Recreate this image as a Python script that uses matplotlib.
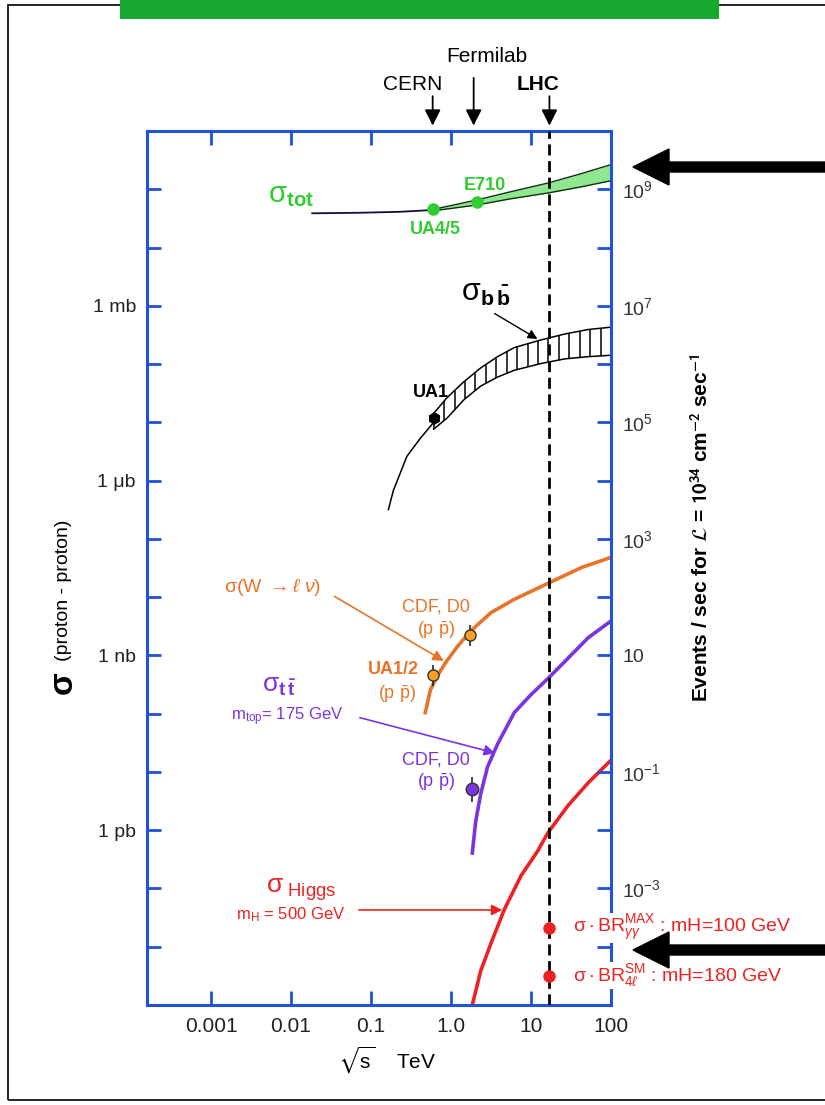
import numpy as np
import matplotlib
matplotlib.use("Agg")
import matplotlib.pyplot as plt
from matplotlib.patches import Rectangle, FancyArrow
from matplotlib.transforms import IdentityTransform

plt.rcParams['font.family'] = ['Liberation Sans', 'DejaVu Sans']
plt.rcParams['mathtext.fontset'] = 'custom'
plt.rcParams['mathtext.rm'] = 'Liberation Sans'
plt.rcParams['mathtext.it'] = 'Liberation Sans:italic'
plt.rcParams['mathtext.bf'] = 'Liberation Sans:bold'
plt.rcParams['mathtext.sf'] = 'Liberation Sans'
plt.rcParams['mathtext.fallback'] = 'stixsans'

# sqrt(s) in TeV, cross sections in mb
colliders = ['CERN', 'Fermilab', 'LHC']
collider_e = [0.59, 1.92, 17.0]

tot_x = [0.0184, 0.071, 0.225, 0.596, 0.72]
tot_y = [38.7, 39.5, 41.0, 44.1, 45.9]
tot_band_x = [0.72, 2.1, 5.4, 16.3, 41, 100]
tot_band_hi = [47.7, 65.5, 89.8, 128, 183, 265]
tot_band_lo = [44.1, 53.7, 68.1, 86.3, 109, 140]
tot_pts_x = [0.596, 2.115]
tot_pts_y = [46.0, 60.0]

bb_x = [0.1651, 0.1905, 0.2811, 0.4133, 0.6077]
bb_y = [3.19e-4, 6.79e-4, 2.61e-3, 5.32e-3, 9.98e-3]
bb_band_x = [0.6077, 0.8964, 1.454, 2.35, 3.813, 6.184, 13.41, 26.38, 51.88, 100]
bb_band_hi = [0.01425, 0.02667, 0.05, 0.0857, 0.134, 0.192, 0.26, 0.328, 0.392, 0.4295]
bb_band_lo = [0.00764, 0.0119, 0.0245, 0.0419, 0.0598, 0.0782, 0.1023, 0.1227, 0.134, 0.1416]
ua1_x, ua1_y = 0.6077, 0.0119

w_x = [0.4773, 0.5528, 0.6705, 0.8536, 1.195, 1.763, 3.145, 6.184, 16.27, 42.79, 100]
w_y = [1.045e-7, 2.56e-7, 4.39e-7, 7.5e-7, 1.406e-6, 2.62e-6, 5.39e-6, 9.18e-6,
       1.72e-5, 3.23e-5, 4.8e-5]
w_pts_x = [0.5903, 1.728]
w_pts_y = [4.54e-7, 2.2e-6]

tt_x = [1.846, 2.036, 2.35, 2.86, 3.813, 6.184, 10.03, 16.27, 29.09, 51.88, 100]
tt_y = [4.06e-10, 1.42e-9, 4.16e-9, 1.216e-8, 2.99e-8, 1.045e-7, 2.13e-7, 4.0e-7,
        8.97e-7, 2.01e-6, 3.9e-6]
tt_pt_x, tt_pt_y = 1.846, 5.15e-9

h_x = [1.846, 2.35, 3.145, 4.624, 7.499, 12.16, 16.27, 29.09, 51.88, 100]
h_y = [1e-12, 3.84e-12, 1.125e-11, 4.31e-11, 1.65e-10, 4.43e-10, 9.04e-10, 2.66e-9,
       6.5e-9, 1.59e-8]
br_y = [2.1e-11, 3.2e-12]

xtick_vals = [0.001, 0.01, 0.1, 1, 10, 100]
xtick_labels = ['0.001', '0.01', '0.1', '1.0', '10', '100']
ytick_vals = [1, 1e-3, 1e-6, 1e-9]
ytick_labels = ['1 mb', '1 \u03bcb', '1 nb', '1 pb']
rate_ticks = [1e9, 1e7, 1e5, 1e3, 1e1, 1e-1, 1e-3]

BLUE = '#1f52d6'
GREEN = '#30cc30'
ORANGE = '#e8742a'
PURPLE = '#7a35e0'
RED = '#ee2222'
SIG = r'\mathrm{\sigma}'

W, H = 825, 1105
fig = plt.figure(figsize=(W / 100, H / 100), dpi=100)
ax = fig.add_axes([147 / W, 1 - 1005 / H, 464 / W, 874 / H])
ax.set_xscale('log')
ax.set_yscale('log')
ax.set_xlim(10 ** -3.8, 100)
ax.set_ylim(1e-12, 1e3)

# sigma_tot
ax.plot(tot_x, tot_y, color='#101040', lw=1.3)
ax.fill_between(tot_band_x, tot_band_lo, tot_band_hi, color='#8fe88f', lw=0)
ax.plot(tot_band_x, tot_band_hi, color='#103010', lw=1)
ax.plot(tot_band_x, tot_band_lo, color='#103010', lw=1)
ax.plot(tot_pts_x, tot_pts_y, 'o', color=GREEN, ms=8, zorder=5)

# sigma_bb with vertical hatching
ax.plot(bb_x, bb_y, color='k', lw=1.1)
ax.plot(bb_band_x, bb_band_hi, color='k', lw=1.1)
ax.plot(bb_band_x, bb_band_lo, color='k', lw=1.1)
lx = np.log10(bb_band_x)
hx = np.geomspace(bb_band_x[0], bb_band_x[-1], 18)
hlo = 10 ** np.interp(np.log10(hx), lx, np.log10(bb_band_lo))
hhi = 10 ** np.interp(np.log10(hx), lx, np.log10(bb_band_hi))
ax.vlines(hx, hlo, hhi, color='k', lw=1.1)
ax.errorbar([ua1_x], [ua1_y], yerr=[[ua1_y * 0.2], [ua1_y * 0.25]], fmt='h',
            color='k', ms=8, lw=1.2, zorder=5)

# W, ttbar, Higgs
ax.plot(w_x, w_y, color=ORANGE, lw=2.6)
ax.plot(tt_x, tt_y, color=PURPLE, lw=2.6)
ax.plot(h_x, h_y, color=RED, lw=2.6)
for xv, yv in zip(w_pts_x, w_pts_y):
    ax.errorbar([xv], [yv], yerr=[[yv * 0.33], [yv * 0.5]], fmt='o', color='#222244',
                mfc='#f5a020', mec='#333333', ms=8, lw=1.2, zorder=5)
ax.errorbar([tt_pt_x], [tt_pt_y], yerr=[[tt_pt_y * 0.4], [tt_pt_y * 0.6]], fmt='o',
            color='#222244', mfc='#7a35e0', mec='#333333', ms=9, lw=1.2, zorder=5)
ax.plot([collider_e[2]] * 2, br_y, 'o', color=RED, ms=8, zorder=6)

# LHC line
ax.axvline(collider_e[2], color='k', ls=(0, (4, 2)), lw=2, zorder=4)

# text labels inside the plot
ax.text(0.0052, 80, r'$%s_{\mathbf{tot}}$' % SIG, color=GREEN, fontsize=21, va='center')
ax.text(2.68, 118, 'E710', color=GREEN, fontsize=13, fontweight='bold', ha='center', va='center')
ax.text(0.64, 20.8, 'UA4/5', color=GREEN, fontsize=13, fontweight='bold', ha='center', va='center')
ax.text(2.68, 1.66, r'$%s_{\mathbf{b\,\bar{b}}}$' % SIG, color='k', fontsize=22, ha='center', va='center')
ax.annotate('', xy=(12.9, 0.255), xytext=(3.27, 0.78),
            arrowprops=dict(arrowstyle='-|>', color='k', lw=1, mutation_scale=14))
ax.text(0.566, 0.0319, 'UA1', color='k', fontsize=13, fontweight='bold', ha='center', va='center')

ax.text(0.00146, 1.44e-5, r'$%s$(W $\rightarrow\ell$ $\nu$)' % SIG, color=ORANGE, fontsize=14, va='center')
ax.annotate('', xy=(0.87, 7.6e-7), xytext=(0.0327, 1.09e-5),
            arrowprops=dict(arrowstyle='-|>', color=ORANGE, lw=1.2, mutation_scale=16))
ax.text(0.653, 6.78e-6, 'CDF, D0', color=ORANGE, fontsize=13, ha='center', va='center')
ax.text(0.653, 2.73e-6, r'(p $\bar{\mathrm{p}}$)', color=ORANGE, fontsize=13, ha='center', va='center')
ax.text(0.19, 5.62e-7, 'UA1/2', color=ORANGE, fontsize=13, fontweight='bold', ha='center', va='center')
ax.text(0.213, 2.18e-7, r'(p $\bar{\mathrm{p}}$)', color=ORANGE, fontsize=13, ha='center', va='center')

ax.text(0.00713, 2.99e-7, r'$%s_{\mathbf{t\,\bar{t}}}$' % SIG, color=PURPLE, fontsize=19, ha='center', va='center')
ax.text(0.00897, 8.77e-8, r'm$_{\mathrm{top}}$= 175 GeV', color=PURPLE, fontsize=12, ha='center', va='center')
ax.annotate('', xy=(3.85, 2.05e-8), xytext=(0.0672, 8.77e-8),
            arrowprops=dict(arrowstyle='-|>', color=PURPLE, lw=1.2, mutation_scale=16))
ax.text(0.653, 1.6e-8, 'CDF, D0', color=PURPLE, fontsize=13, ha='center', va='center')
ax.text(0.653, 6.73e-9, r'(p $\bar{\mathrm{p}}$)', color=PURPLE, fontsize=13, ha='center', va='center')

ax.text(0.0135, 9.4e-11, r'$%s_{\ \mathrm{Higgs}}$' % SIG, color=RED, fontsize=19, ha='center', va='center')
ax.text(0.0098, 3.5e-11, r'm$_{\mathrm{H}}$ = 500 GeV', color=RED, fontsize=12, ha='center', va='center')
ax.annotate('', xy=(4.75, 4.27e-11), xytext=(0.0653, 4.27e-11),
            arrowprops=dict(arrowstyle='-|>', color=RED, lw=1.2, mutation_scale=16))
ax.text(33.7, br_y[0], r'$%s\cdot$BR$_{\gamma\gamma}^{\mathrm{MAX}}$ : mH=100 GeV' % SIG, color=RED,
        fontsize=14, va='center', clip_on=False, zorder=10,
        bbox=dict(facecolor='white', edgecolor='none', pad=0))
ax.text(33.7, br_y[1], r'$%s\cdot$BR$_{4\ell}^{\mathrm{SM}}$ : mH=180 GeV' % SIG, color=RED,
        fontsize=14, va='center', clip_on=False, zorder=10,
        bbox=dict(facecolor='white', edgecolor='none', pad=0))

# axes styling
for s in ax.spines.values():
    s.set_color(BLUE)
    s.set_linewidth(2.2)
ax.minorticks_off()
ax.set_xticks(xtick_vals, xtick_labels)
ax.set_yticks(10.0 ** np.arange(-12, 4))
ax.set_yticklabels([ytick_labels[ytick_vals.index(v)] if v in ytick_vals else ''
                    for v in 10.0 ** np.arange(-12, 4)])
ax.tick_params(axis='both', which='major', direction='in', length=10, width=2, color=BLUE,
               top=True, right=False, labelsize=14, labelcolor='#222222')
ax.tick_params(axis='x', pad=9, labelsize=15)
ax.tick_params(axis='y', pad=8)
ax.minorticks_off()

ax2 = ax.twinx()
ax2.set_yscale('log')
ax2.set_ylim(1e-12 * 1e7, 1e3 * 1e7)
for s in ax2.spines.values():
    s.set_visible(False)
ax2.set_yticks(10.0 ** np.arange(-5, 11))
ax2.set_yticklabels([('10' if v == 1e1 else '10$^{%d}$' % round(np.log10(v))) if v in rate_ticks else ''
                     for v in 10.0 ** np.arange(-5, 11)])
ax2.tick_params(axis='y', direction='in', length=10, width=2, color=BLUE, pad=8,
                labelsize=14, labelcolor='#333333')
ax2.minorticks_off()

# axis titles
fig.text(387 / W, 1 - 1060 / H, r'$\sqrt{\mathrm{s}}$    TeV', fontsize=15, ha='center', va='center')
fig.text(63 / W, 1 - 683 / H, '\u03c3', fontsize=24, fontweight='bold', rotation=90,
         ha='center', va='center')
fig.text(63 / W, 1 - 590 / H, '(proton - proton)', fontsize=14, rotation=90,
         ha='center', va='center')
fig.text(700 / W, 1 - 528 / H,
         r'Events / sec for $\mathcal{L}$ = $\mathbf{10^{34}}$ cm$^{\mathbf{-2}}$ sec$^{\mathbf{-1}}$',
         fontsize=15, fontweight='bold', rotation=90, ha='center', va='center',
         math_fontfamily='stixsans')

# collider arrows above the plot
tops = [1.043, 1.064, 1.043]
for name, e, t in zip(colliders, collider_e, tops):
    ax.annotate('', xy=(e, 1.003), xycoords=('data', 'axes fraction'), xytext=(e, t),
                arrowprops=dict(arrowstyle='-|>', color='k', lw=1.3, mutation_scale=24))
fig.text(413 / W, 1 - 85 / H, 'CERN', fontsize=15, ha='center', va='center')
fig.text(487 / W, 1 - 57 / H, 'Fermilab', fontsize=15, ha='center', va='center')
fig.text(538 / W, 1 - 85 / H, 'LHC', fontsize=15, fontweight='bold', ha='center', va='center')

# page decorations: frame, banner, big arrows
fig.add_artist(Rectangle((8, 5), 830, H - 10, transform=IdentityTransform(),
                         fill=False, edgecolor='k', lw=1.2))
fig.add_artist(Rectangle((120, H - 19), 599, 19, transform=IdentityTransform(),
                         facecolor='#17a82f', edgecolor='none'))
for py in [167, 950]:
    fig.add_artist(FancyArrow(W, H - py, -(W - 633), 0, width=10, head_width=36,
                              head_length=36, length_includes_head=True,
                              transform=IdentityTransform(), color='k'))

fig.savefig('out.png', dpi=100)
